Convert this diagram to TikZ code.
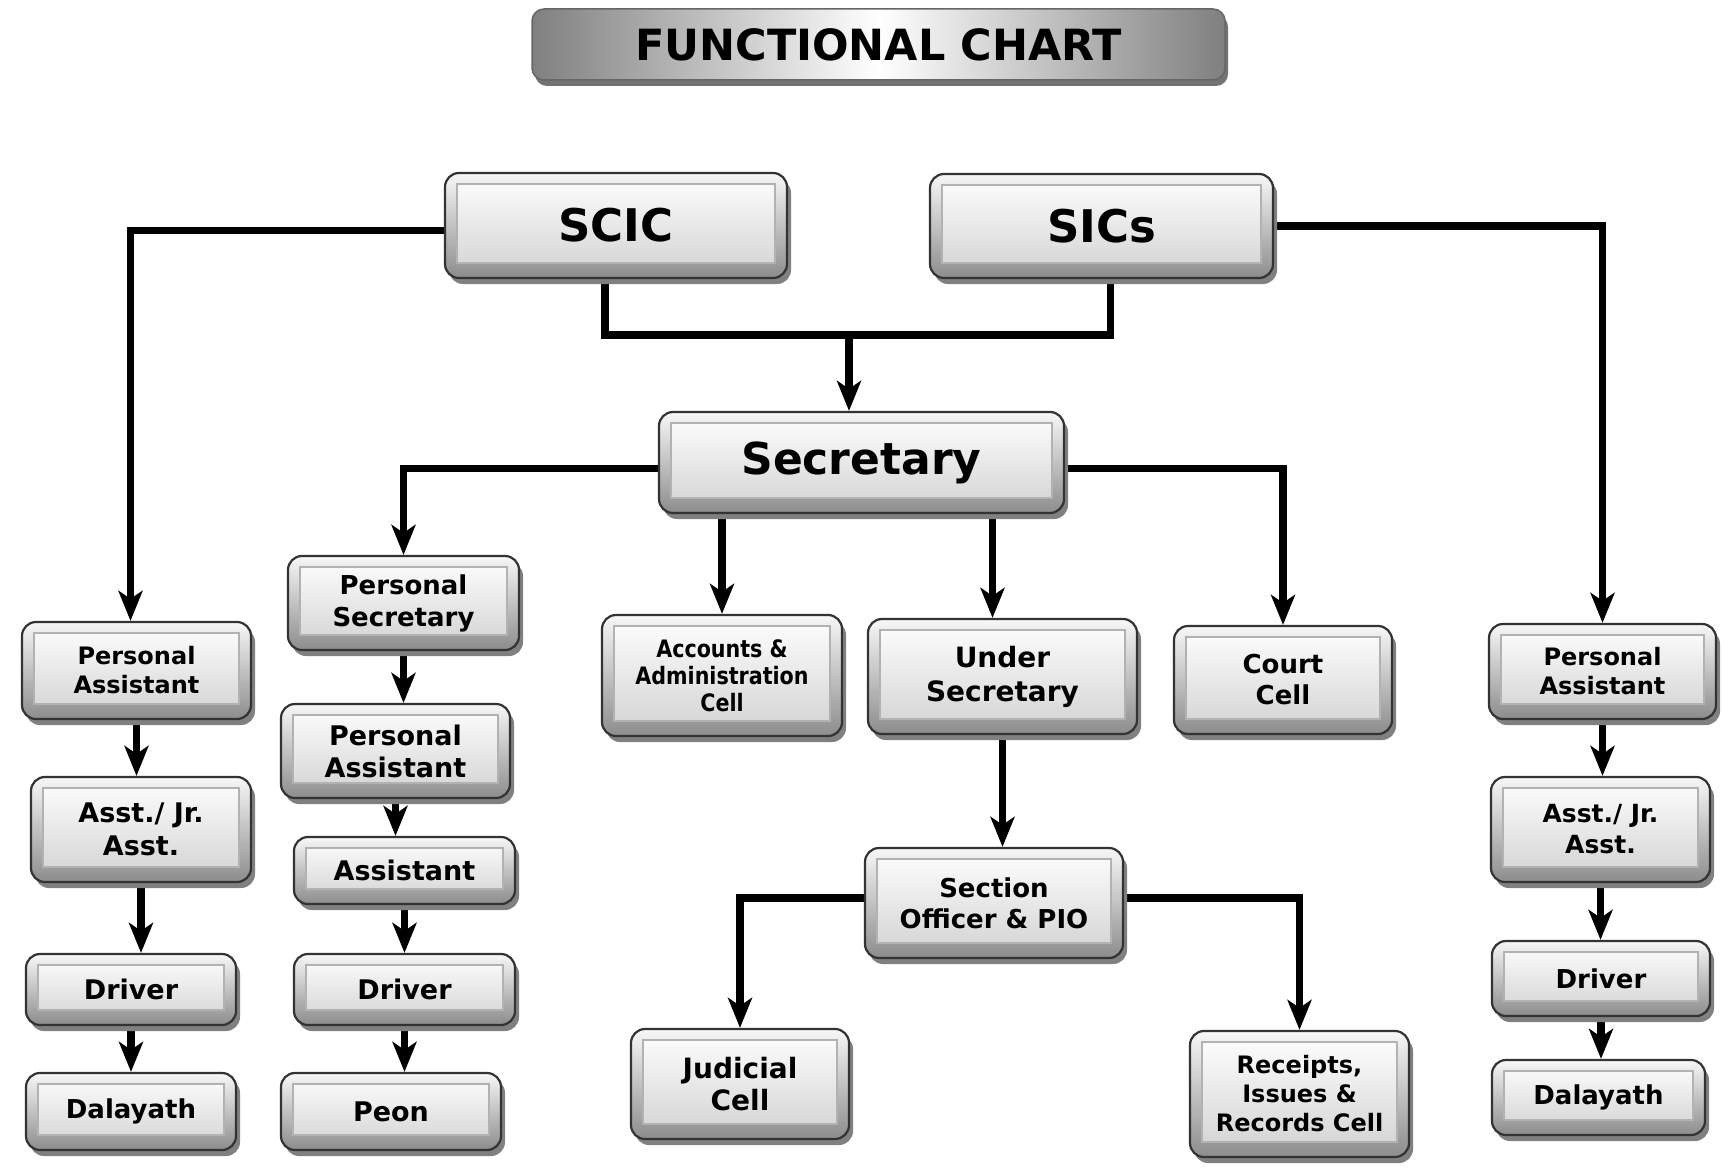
\documentclass[tikz,border=0pt]{standalone}
\usepackage{fontspec}
\setmainfont{DejaVu Sans}
\newfontfamily\condfont{DejaVu Sans}[FakeStretch=0.86]
\usetikzlibrary{shadows,arrows.meta,calc}
\pgfdeclarelayer{paper}
\pgfdeclarelayer{wires}
\pgfsetlayers{paper,wires,main}
\newcommand\fsz[2]{\fontsize{#1}{#2}\selectfont}
\newcommand\bx[7]{\node[box, minimum width=#4pt, minimum height=#5pt, font=\bfseries#6] (#1) at (#2,#3) {#7};}
\begin{document}
\begin{tikzpicture}[x=1pt,y=-1pt,
 box/.style={draw=black!80, line width=2.2pt, rounded corners=14pt, top color=black!3, bottom color=black!45,
   drop shadow={shadow xshift=4pt, shadow yshift=-6pt, fill=black!50, opacity=1},
   inner sep=0pt, align=center, text=black,
   path picture={\draw[sharp corners, draw=black!30, line width=1.5pt, top color=white, bottom color=black!18]
     ([xshift=12pt,yshift=-11pt]path picture bounding box.north west) rectangle
     ([xshift=-12pt,yshift=15pt]path picture bounding box.south east);}},
 titlebox/.style={draw=black!60, line width=1.5pt, rounded corners=12pt, left color=black!50, right color=black!50, middle color=white,
   drop shadow={shadow xshift=3pt, shadow yshift=-6pt, fill=black!55, opacity=1}, inner sep=0pt, text=black},
 link/.style={line width=7.5pt, draw=black},
 arr/.style={link, -{Stealth[length=30pt,width=24pt,inset=8pt]}},
]
\begin{pgfonlayer}{paper}
\fill[white] (0,0) rectangle (1723,1169);
\end{pgfonlayer}
\useasboundingbox (0,0) rectangle (1723,1169);

\node[titlebox, minimum width=693pt, minimum height=71pt, font=\bfseries\fsz{43}{50}] (title) at (878.5,44.5) {FUNCTIONAL CHART};

\bx{scic}{616}{225.5}{342}{105}{\fsz{45}{50}}{SCIC}
\bx{sics}{1101.5}{226}{343}{104}{\fsz{45}{50}}{SICs}
\bx{sec}{861.5}{462.5}{405}{101}{\fsz{44}{50}}{Secretary}
\bx{psec}{403.5}{603}{231}{94}{\fsz{26}{32}}{Personal\\Secretary}
\bx{acc}{722}{675.5}{240}{121}{\condfont\fsz{24}{27}}{Accounts \&\\Administration\\Cell}
\bx{usec}{1002.5}{676.5}{269}{115}{\fsz{28}{34}}{Under\\Secretary}
\bx{court}{1283}{680}{218}{108}{\fsz{26}{31}}{Court\\Cell}
\bx{lpa}{136.5}{670.5}{229}{97}{\fsz{24}{29}}{Personal\\Assistant}
\bx{rpa}{1602.5}{671.5}{227}{95}{\fsz{24}{29}}{Personal\\Assistant}
\bx{laj}{141}{829.5}{220}{105}{\fsz{27}{33}}{Asst./ Jr.\\Asst.}
\bx{ldrv}{131}{989.5}{210}{71}{\fsz{27}{32}}{Driver}
\bx{ldal}{131}{1111.5}{210}{77}{\fsz{26}{32}}{Dalayath}
\bx{ppa}{395.5}{751}{229}{94}{\fsz{27}{32}}{Personal\\Assistant}
\bx{passt}{404.5}{870.5}{221}{67}{\fsz{27}{32}}{Assistant}
\bx{pdrv}{404.5}{989.5}{221}{71}{\fsz{27}{32}}{Driver}
\bx{peon}{391}{1111.5}{220}{77}{\fsz{27}{32}}{Peon}
\bx{so}{994}{903}{258}{110}{\fsz{26}{31}}{Section\\Officer \& PIO}
\bx{jud}{740}{1084}{218}{110}{\fsz{28}{32}}{Judicial\\Cell}
\bx{rec}{1299.5}{1094}{219}{126}{\fsz{24}{29}}{Receipts,\\Issues \&\\Records Cell}
\bx{raj}{1600.5}{829.5}{219}{105}{\fsz{25}{31}}{Asst./ Jr.\\Asst.}
\bx{rdrv}{1601}{978.5}{218}{75}{\fsz{26}{32}}{Driver}
\bx{rdal}{1598.5}{1097.5}{213}{75}{\fsz{26}{32}}{Dalayath}

\begin{pgfonlayer}{wires}
\coordinate (jn) at (849,335);
\draw[link] ([xshift=-11pt]scic.south) |- (jn) -| ([xshift=9pt]sics.south);
\draw[arr] (jn) -- (jn |- sec.north);
\draw[arr] ([yshift=-5pt]scic.west) -| ([xshift=-6pt]lpa.north);
\draw[arr] (sics.east) -| (rpa.north);
\draw[arr] ([yshift=-6pt]sec.west) -| (psec.north);
\draw[arr] (acc.north |- sec.south) -- (acc.north);
\draw[arr] ([xshift=-10pt]usec.north |- sec.south) -- ([xshift=-10pt]usec.north);
\draw[arr] ([yshift=-6pt]sec.east) -| (court.north);
\draw[arr] (usec.south) -- (usec.south |- so.north);
\draw[arr] ([yshift=5pt]so.west) -| (jud.north);
\draw[arr] ([yshift=5pt]so.east) -| (rec.north);
\draw[arr] (lpa.south) -- (lpa.south |- laj.north);
\draw[arr] (laj.south) -- (laj.south |- ldrv.north);
\draw[arr] (ldrv.south) -- (ldrv.south |- ldal.north);
\draw[arr] (psec.south) -- (psec.south |- ppa.north);
\draw[arr] (ppa.south) -- (ppa.south |- passt.north);
\draw[arr] (passt.south) -- (passt.south |- pdrv.north);
\draw[arr] (pdrv.south) -- (pdrv.south |- peon.north);
\draw[arr] (rpa.south) -- (rpa.south |- raj.north);
\draw[arr] (raj.south) -- (raj.south |- rdrv.north);
\draw[arr] (rdrv.south) -- (rdrv.south |- rdal.north);
\end{pgfonlayer}
\end{tikzpicture}
\end{document}
